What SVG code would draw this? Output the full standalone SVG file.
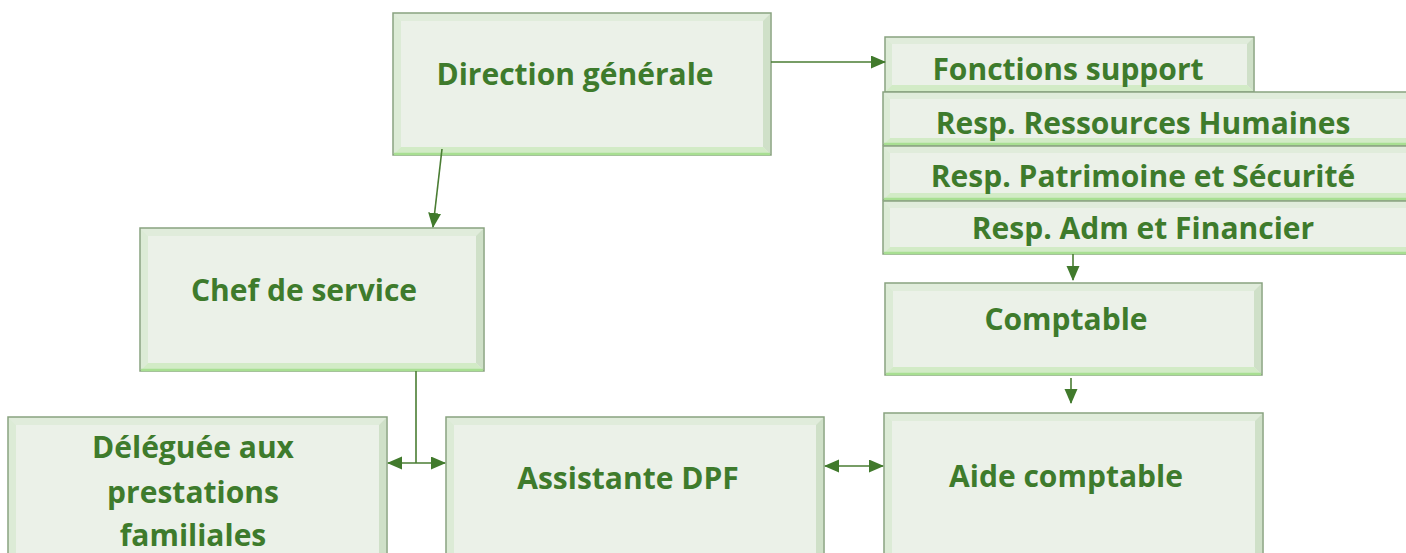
<svg xmlns="http://www.w3.org/2000/svg" width="1406" height="553" viewBox="0 0 1406 553">
<style>
.o{fill:#e6efe1;stroke:#88a27f;stroke-width:1.5}
.in{fill:#ebf1e8}
.bt{fill:#e0ecdb}
.bl{fill:#dcebd6}
.br{fill:#cfe0c8}
.bb{fill:#d2ebc6}
.bl2{stroke:#a8df92;stroke-width:2.5}
.t{font-family:"Open Sans","Noto Sans",sans-serif;font-weight:bold;font-size:30px;fill:#3e7b2c;text-anchor:middle}
.c{stroke:#4a7d33;stroke-width:1.6;fill:none}
</style>
<defs>
<marker id="ah" markerUnits="userSpaceOnUse" markerWidth="16" markerHeight="14" refX="14" refY="6.5" orient="auto-start-reverse" viewBox="0 0 16 14">
<path d="M0,0 L15,6.5 L0,13 z" fill="#417a2c"/>
</marker>
</defs>

<g id="n-dg">
<rect class="o" x="393" y="13" width="378" height="142"/>
<polygon class="bt" points="394,14 770,14 763,21 401,21"/>
<polygon class="bl" points="394,14 401,21 401,147 394,154"/>
<polygon class="br" points="770,14 770,154 763,147 763,21"/>
<polygon class="bb" points="394,154 401,147 763,147 770,154"/>
<rect class="in" x="401" y="21" width="362" height="126"/>
<line class="bl2" x1="394" y1="154" x2="770" y2="154"/>
<text class="t" x="575" y="85">Direction générale</text>
</g>

<g id="n-fs">
<rect class="o" x="885" y="37" width="369" height="55"/>
<polygon class="bt" points="886,38 1253,38 1247,44 892,44"/>
<polygon class="bl" points="886,38 892,44 892,85 886,91"/>
<polygon class="br" points="1253,38 1253,91 1247,85 1247,44"/>
<polygon class="bb" points="886,91 892,85 1247,85 1253,91"/>
<rect class="in" x="892" y="44" width="355" height="41"/>
<text class="t" x="1068" y="80">Fonctions support</text>
</g>

<g id="n-rh">
<rect class="o" x="883" y="92" width="540" height="53"/>
<polygon class="bt" points="884,93 1420,93 1414,99 890,99"/>
<polygon class="bl" points="884,93 890,99 890,138 884,144"/>
<polygon class="bb" points="884,144 890,138 1414,138 1420,144"/>
<rect class="in" x="890" y="99" width="530" height="39"/>
<line class="bl2" x1="884" y1="144" x2="1406" y2="144"/>
<text class="t" x="1143" y="134">Resp. Ressources Humaines</text>
</g>

<g id="n-ps">
<rect class="o" x="883" y="146" width="540" height="54"/>
<polygon class="bt" points="884,147 1420,147 1414,153 890,153"/>
<polygon class="bl" points="884,147 890,153 890,193 884,199"/>
<polygon class="bb" points="884,199 890,193 1414,193 1420,199"/>
<rect class="in" x="890" y="153" width="530" height="40"/>
<line class="bl2" x1="884" y1="199" x2="1406" y2="199"/>
<text class="t" x="1143" y="187">Resp. Patrimoine et Sécurité</text>
</g>

<g id="n-af">
<rect class="o" x="883" y="201" width="540" height="53"/>
<polygon class="bt" points="884,202 1420,202 1414,208 890,208"/>
<polygon class="bl" points="884,202 890,208 890,247 884,253"/>
<polygon class="bb" points="884,253 890,247 1414,247 1420,253"/>
<rect class="in" x="890" y="208" width="530" height="39"/>
<line class="bl2" x1="884" y1="253" x2="1406" y2="253"/>
<text class="t" x="1143" y="239">Resp. Adm et Financier</text>
</g>

<g id="n-chef">
<rect class="o" x="140" y="228" width="344" height="143"/>
<polygon class="bt" points="141,229 483,229 476,236 148,236"/>
<polygon class="bl" points="141,229 148,236 148,363 141,370"/>
<polygon class="br" points="483,229 483,370 476,363 476,236"/>
<polygon class="bb" points="141,370 148,363 476,363 483,370"/>
<rect class="in" x="148" y="236" width="328" height="127"/>
<line class="bl2" x1="141" y1="370" x2="483" y2="370"/>
<text class="t" x="304" y="301">Chef de service</text>
</g>

<g id="n-comptable">
<rect class="o" x="885" y="283" width="377" height="92"/>
<polygon class="bt" points="886,284 1261,284 1254,291 893,291"/>
<polygon class="bl" points="886,284 893,291 893,367 886,374"/>
<polygon class="br" points="1261,284 1261,374 1254,367 1254,291"/>
<polygon class="bb" points="886,374 893,367 1254,367 1261,374"/>
<rect class="in" x="893" y="291" width="361" height="76"/>
<line class="bl2" x1="886" y1="374" x2="1261" y2="374"/>
<text class="t" x="1066" y="330">Comptable</text>
</g>

<g id="n-deleguee">
<rect class="o" x="8" y="417" width="379" height="160"/>
<polygon class="bt" points="9,418 386,418 379,425 16,425"/>
<polygon class="bl" points="9,418 16,425 16,577 9,577"/>
<polygon class="br" points="386,418 386,577 379,577 379,425"/>
<rect class="in" x="16" y="425" width="363" height="152"/>
<text class="t" x="193" y="458">Déléguée aux</text>
<text class="t" x="193" y="503">prestations</text>
<text class="t" x="193" y="546">familiales</text>
</g>

<g id="n-assistante">
<rect class="o" x="446" y="417" width="378" height="160"/>
<polygon class="bt" points="447,418 823,418 816,425 454,425"/>
<polygon class="bl" points="447,418 454,425 454,577 447,577"/>
<polygon class="br" points="823,418 823,577 816,577 816,425"/>
<rect class="in" x="454" y="425" width="362" height="152"/>
<text class="t" x="628" y="489">Assistante DPF</text>
</g>

<g id="n-aide">
<rect class="o" x="884" y="413" width="379" height="160"/>
<polygon class="bt" points="885,414 1262,414 1255,421 892,421"/>
<polygon class="bl" points="885,414 892,421 892,577 885,577"/>
<polygon class="br" points="1262,414 1262,577 1255,577 1255,421"/>
<rect class="in" x="892" y="421" width="363" height="152"/>
<text class="t" x="1066" y="487">Aide comptable</text>
</g>

<g id="connectors">
<line class="c" x1="771" y1="62" x2="885" y2="62" marker-end="url(#ah)"/>
<line class="c" x1="442" y1="149" x2="433" y2="227" marker-end="url(#ah)"/>
<line class="c" x1="1073" y1="254" x2="1073" y2="280" marker-end="url(#ah)"/>
<line class="c" x1="1071" y1="378" x2="1071" y2="403" marker-end="url(#ah)"/>
<line class="c" x1="416" y1="371" x2="416" y2="463"/>
<line class="c" x1="388" y1="463" x2="445" y2="463" marker-start="url(#ah)" marker-end="url(#ah)"/>
<line class="c" x1="825" y1="466" x2="883" y2="466" marker-start="url(#ah)" marker-end="url(#ah)"/>
</g>
</svg>
